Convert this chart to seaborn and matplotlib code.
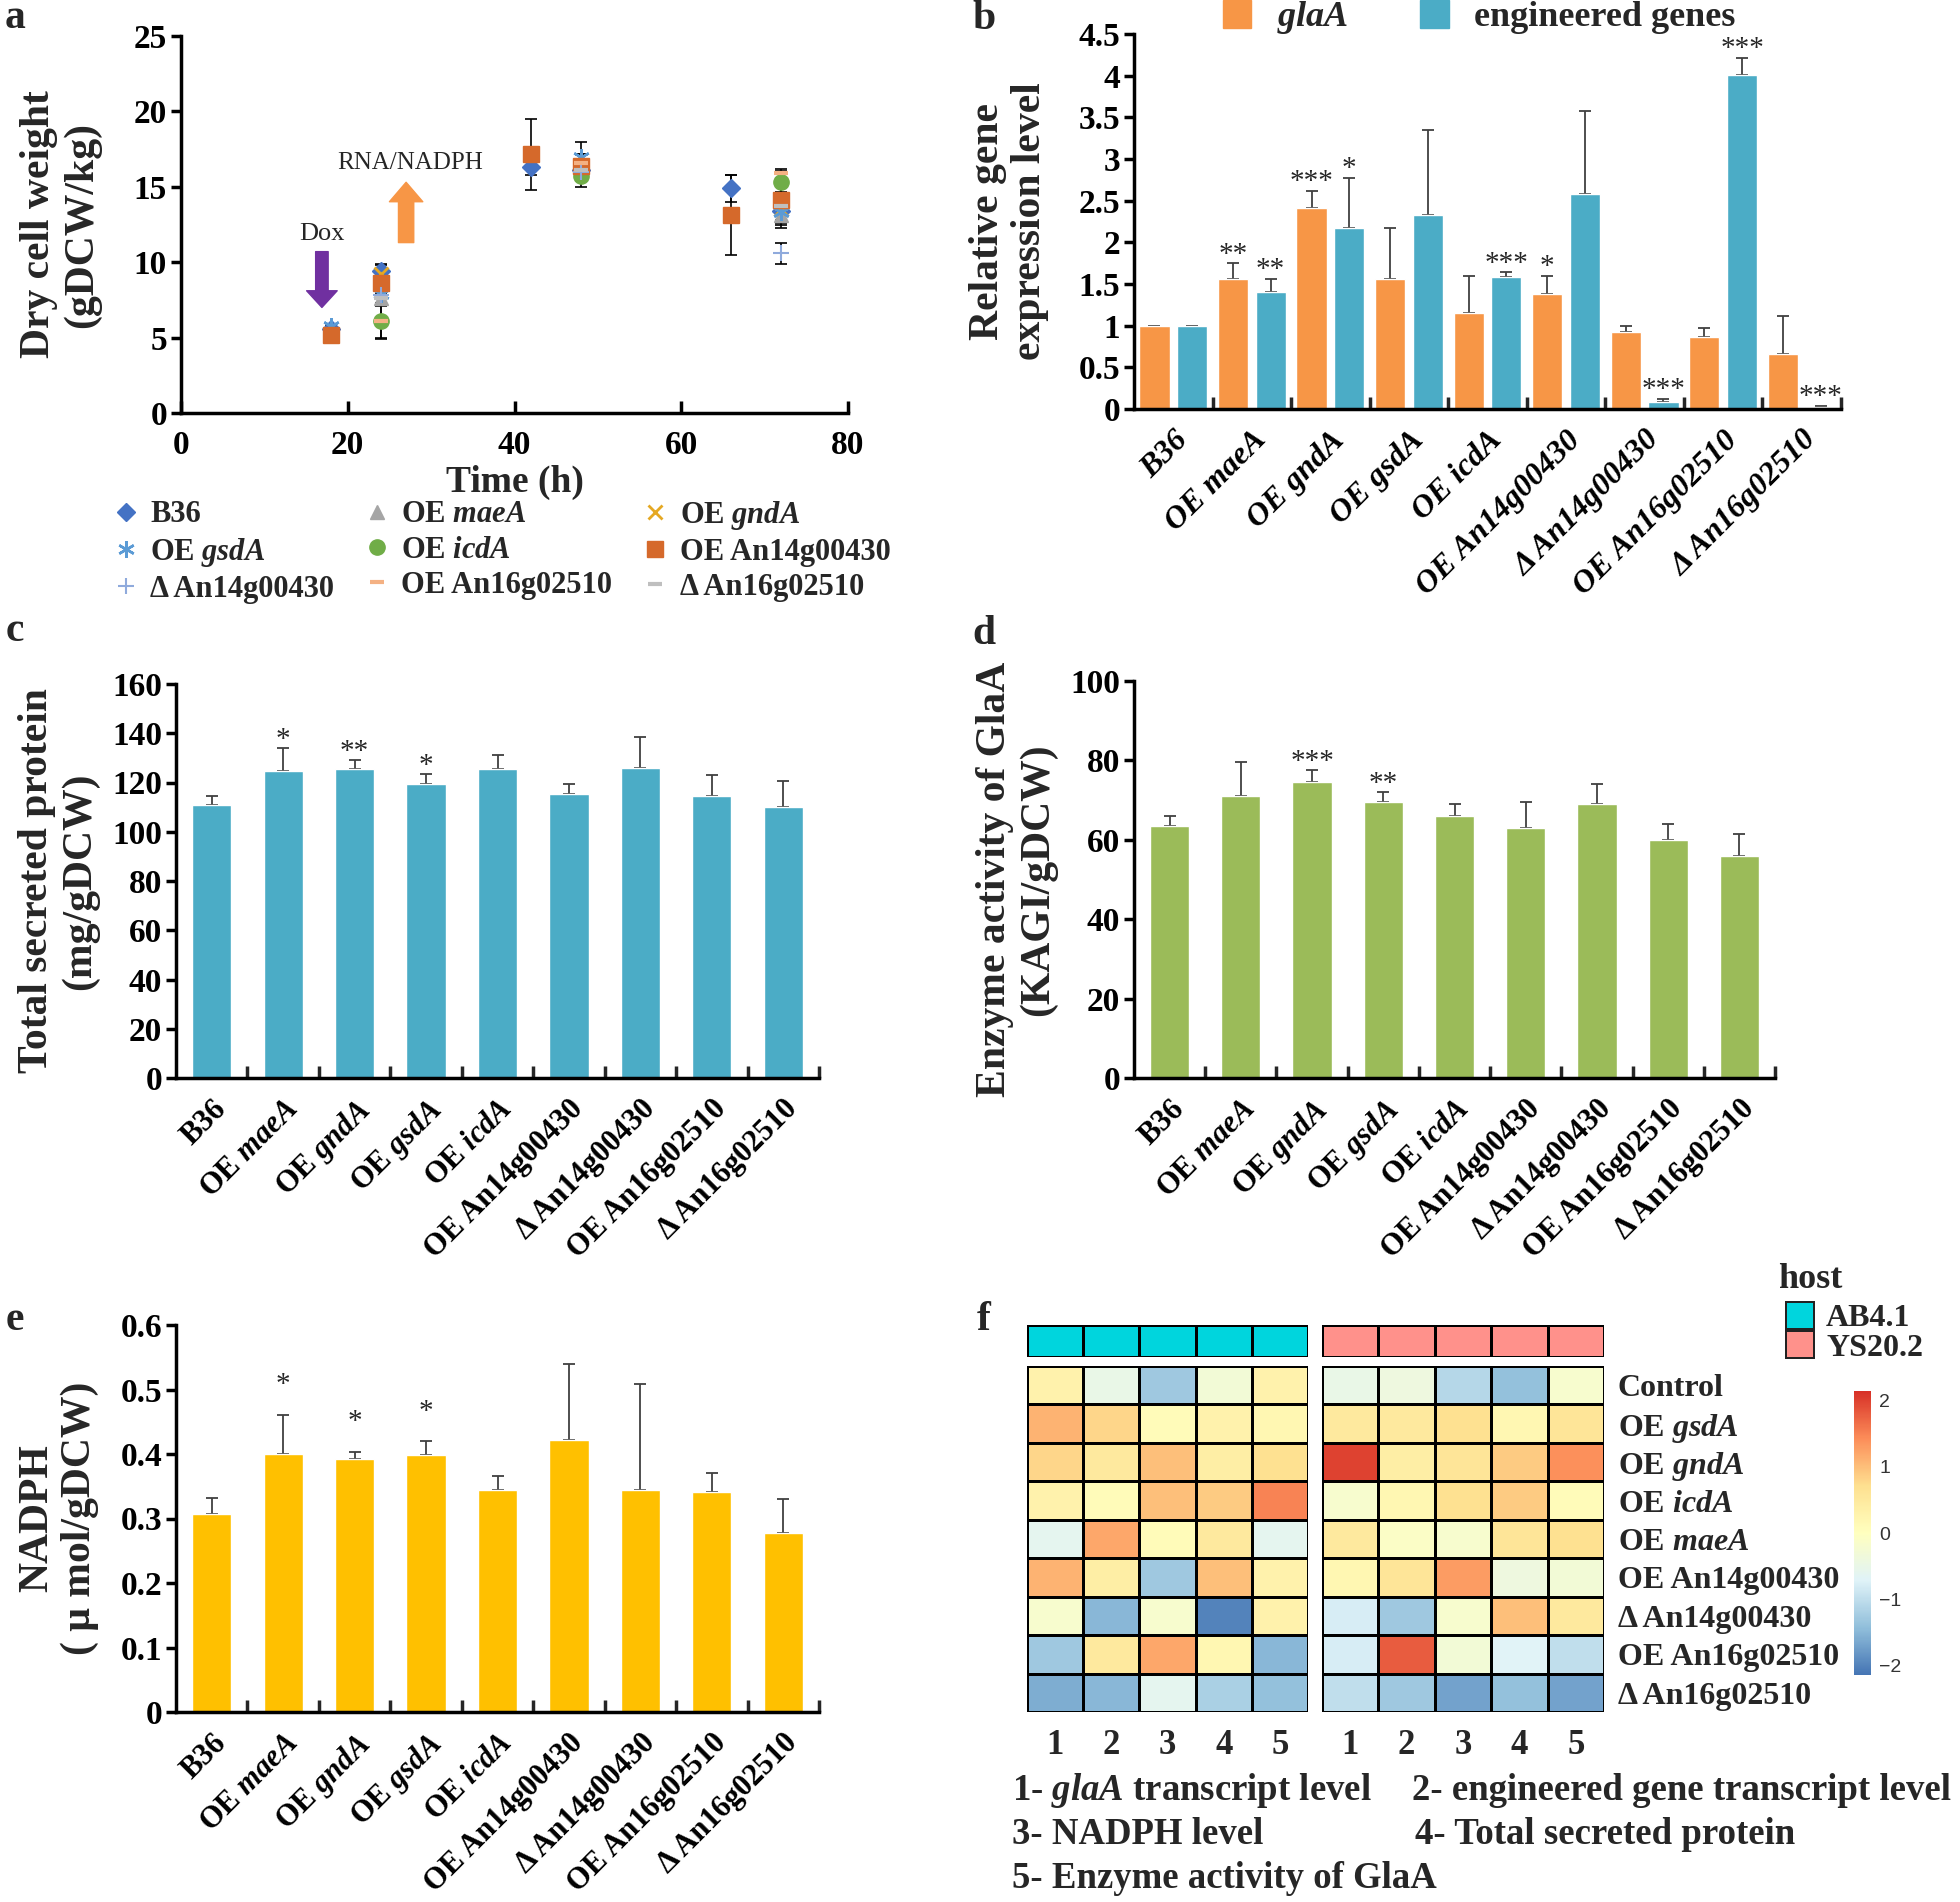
import numpy as np
import pandas as pd
import matplotlib
matplotlib.use("Agg")
import matplotlib.pyplot as plt
import seaborn as sns
from matplotlib.colors import LinearSegmentedColormap, ListedColormap
from matplotlib.patches import Patch
from matplotlib.ticker import FuncFormatter

sns.set_style("ticks")
plt.rcParams["font.family"] = ["Liberation Serif", "DejaVu Serif"]
plt.rcParams["font.weight"] = "bold"
plt.rcParams["axes.labelweight"] = "bold"
plt.rcParams["mathtext.fontset"] = "custom"
plt.rcParams["mathtext.rm"] = "Liberation Serif:bold"
plt.rcParams["mathtext.it"] = "Liberation Serif:italic:bold"
plt.rcParams["mathtext.bf"] = "Liberation Serif:bold"

nan = np.nan

# ---------------- data ----------------
strains = ["B36", "OE maeA", "OE gndA", "OE gsdA", "OE icdA",
           "OE An14g00430", "Δ An14g00430", "OE An16g02510", "Δ An16g02510"]
italic_genes = ["maeA", "gndA", "gsdA", "icdA"]

# a: dry cell weight over time
times = [18, 24, 42, 48, 66, 72]
dcw_b36 = [5.6, 9.4, 16.3, 16.1, 14.9, 13.4]
dcw_b36_err = [0.15, 0.5, 0.5, 0.6, 0.9, 0.6]
dcw_maeA = [nan, 7.6, nan, 16.0, nan, 13.1]
dcw_maeA_err = [nan, 0.5, nan, 0.5, nan, 0.8]
dcw_gndA = [nan, 9.2, nan, 16.3, nan, 13.5]
dcw_gndA_err = [nan, 0.6, nan, 0.8, nan, 0.9]
dcw_gsdA = [5.8, 7.9, nan, 17.0, nan, 13.3]
dcw_gsdA_err = [0.1, 0.6, nan, 1.0, nan, 0.8]
dcw_icdA = [nan, 6.1, nan, 15.7, nan, 15.35]
dcw_icdA_err = [nan, 1.2, nan, 0.7, nan, 0.7]
dcw_oe14 = [5.2, 8.6, 17.15, 16.4, 13.1, 14.15]
dcw_oe14_err = [0.2, 0.7, 2.35, 0.8, 2.65, 1.0]
dcw_d14 = [nan, 7.8, nan, 16.0, nan, 10.6]
dcw_d14_err = [nan, 0.5, nan, 0.6, nan, 0.7]
dcw_oe16 = [nan, 6.1, nan, 16.6, nan, 15.9]
dcw_oe16_err = [nan, 1.1, nan, 0.6, nan, 0.3]
dcw_d16 = [nan, 7.6, nan, 16.1, nan, 13.7]
dcw_d16_err = [nan, 0.4, nan, 0.5, nan, 0.6]

# b: relative expression
gla_vals = [1.0, 1.56, 2.41, 1.56, 1.15, 1.38, 0.92, 0.87, 0.66]
gla_err = [0.0, 0.19, 0.21, 0.61, 0.45, 0.22, 0.08, 0.10, 0.46]
gla_stars = ["", "**", "***", "", "", "*", "", "", ""]
eng_vals = [1.0, 1.40, 2.17, 2.33, 1.58, 2.58, 0.09, 4.01, 0.02]
eng_err = [0.0, 0.16, 0.60, 1.02, 0.06, 1.00, 0.03, 0.20, 0.02]
eng_stars = ["", "**", "*", "", "***", "", "***", "***", "***"]

# c: total secreted protein
protein_vals = [111, 124.5, 125.5, 119.5, 125.5, 115.5, 126, 114.5, 110]
protein_err = [3.5, 9.5, 3.5, 4, 5.5, 4, 12.5, 8.5, 10.5]
protein_stars = ["", "*", "**", "*", "", "", "", "", ""]

# d: GlaA enzyme activity
enzyme_vals = [63.5, 71, 74.5, 69.5, 66, 63, 69, 60, 56]
enzyme_err = [2.5, 8.5, 3, 2.5, 3, 6.5, 5, 4, 5.5]
enzyme_stars = ["", "", "***", "**", "", "", "", "", ""]

# e: NADPH
nadph_vals = [0.307, 0.400, 0.393, 0.398, 0.344, 0.422, 0.344, 0.341, 0.278]
nadph_err = [0.025, 0.061, 0.010, 0.022, 0.022, 0.117, 0.164, 0.029, 0.053]
nadph_stars = ["", "*", "*", "*", "", "", "", "", ""]

# f: heatmap (z-scores)
heat_rows = ["Control", "OE gsdA", "OE gndA", "OE icdA", "OE maeA",
             "OE An14g00430", "Δ An14g00430", "OE An16g02510", "Δ An16g02510"]
heat_cols = ["1", "2", "3", "4", "5"]
heat_ab41 = [
    [0.3, -0.5, -1.3, -0.3, 0.3],
    [1.1, 0.8, 0.1, 0.3, 0.2],
    [0.8, 0.5, 1.0, 0.4, 0.7],
    [0.3, 0.1, 1.0, 0.9, 1.5],
    [-0.6, 1.2, 0.1, 0.5, -0.6],
    [1.1, 0.4, -1.3, 1.0, 0.3],
    [-0.2, -1.5, -0.2, -2.0, 0.3],
    [-1.3, 0.5, 1.2, 0.2, -1.5],
    [-1.6, -1.5, -0.6, -1.2, -1.4],
]
heat_ys202 = [
    [-0.5, -0.4, -1.1, -1.4, -0.2],
    [0.5, 0.5, 0.7, 0.2, 0.6],
    [2.0, 0.4, 0.6, 0.9, 1.4],
    [-0.2, 0.2, 0.7, 0.9, 0.1],
    [0.5, -0.1, -0.2, 0.6, 0.7],
    [0.2, 0.6, 1.3, -0.4, -0.3],
    [-0.8, -1.3, -0.2, 1.0, 0.5],
    [-0.8, 1.8, -0.3, -0.7, -1.0],
    [-1.0, -1.3, -1.7, -1.4, -1.7],
]
hosts = ["AB4.1", "YS20.2"]
heat_notes = ["1- $\\mathit{glaA}$ transcript level", "2- engineered gene transcript level",
              "3- NADPH level", "4- Total secreted protein", "5- Enzyme activity of GlaA"]

# ---------------- helpers ----------------
W, H = 1960, 1902


def rect(l, t, r, b):
    return [l / W, 1 - b / H, (r - l) / W, (b - t) / H]


def math_label(s):
    for g in italic_genes:
        if s.endswith(g):
            return s[:-len(g)] + "$\\mathit{" + g + "}$"
    return s


def style_axes(ax):
    for s in ["top", "right"]:
        ax.spines[s].set_visible(False)
    for s in ["left", "bottom"]:
        ax.spines[s].set_linewidth(2.5)
        ax.spines[s].set_color("black")
    ax.tick_params(axis="y", direction="out", length=7, width=2.5, labelsize=24, pad=3, colors="black")
    ax.tick_params(axis="x", direction="in", length=9, width=2.5, labelsize=24, colors="black")


def bar_axes(ax, labels, ylim, step, ylabel, fmt="{:g}", italic=False, xsize=22):
    style_axes(ax)
    ax.set_ylim(*ylim)
    ax.set_yticks(np.arange(ylim[0], ylim[1] + step / 2, step))
    ax.yaxis.set_major_formatter(FuncFormatter(lambda v, p: fmt.format(round(v, 3))))
    ax.set_xlim(-0.5, 8.5)
    ax.set_xticks(range(9))
    ax.set_xticks(np.arange(0.5, 9, 1), minor=True)
    ax.tick_params(axis="x", which="major", length=0, pad=12)
    ax.tick_params(axis="x", which="minor", direction="in", length=9, width=2.5)
    ax.set_xticklabels(labels, rotation=45, ha="right", rotation_mode="anchor",
                       fontsize=xsize, fontstyle="italic" if italic else "normal")
    ax.set_xlabel("")
    ax.set_ylabel(ylabel, fontsize=30, linespacing=1.15)
    ax.yaxis.set_label_coords(-0.12, 0.5)


def add_err(ax, x, vals, errs, stars, off, color="#404040"):
    v = np.array(vals)
    e = np.array(errs)
    ax.errorbar(x, v, yerr=[np.zeros_like(e), e], fmt="none", ecolor=color,
                elinewidth=1.3, capsize=4, capthick=1.3, zorder=0.5)
    for xi, top, s in zip(x, v + e, stars):
        if s:
            ax.text(xi, top + off, s, ha="center", va="baseline", fontsize=21,
                    fontweight="normal")


fig = plt.figure(figsize=(19.6, 19.02), dpi=100)

# ---------------- panel a ----------------
ax_a = fig.add_axes(rect(181, 36, 848, 413))
series_a = [
    ("B36", dcw_b36, dcw_b36_err, dict(marker="D", ms=9, color="#4472C4")),
    ("OE $\\mathit{maeA}$", dcw_maeA, dcw_maeA_err, dict(marker="^", ms=10, color="#A5A5A5")),
    ("OE $\\mathit{gndA}$", dcw_gndA, dcw_gndA_err, dict(marker="x", ms=10, mew=2, color="#E5A823")),
    ("OE $\\mathit{gsdA}$", dcw_gsdA, dcw_gsdA_err, dict(marker=(6, 2, 0), ms=12, mew=1.8, color="#5B9BD5")),
    ("OE $\\mathit{icdA}$", dcw_icdA, dcw_icdA_err, dict(marker="o", ms=11, color="#70AD47")),
    ("OE An14g00430", dcw_oe14, dcw_oe14_err, dict(marker="s", ms=12, color="#D5692B")),
    ("Δ An14g00430", dcw_d14, dcw_d14_err, dict(marker="+", ms=12, mew=1.5, color="#8FAADC")),
    ("OE An16g02510", dcw_oe16, dcw_oe16_err, dict(marker="_", ms=10, mew=3, color="#F4B183")),
    ("Δ An16g02510", dcw_d16, dcw_d16_err, dict(marker="_", ms=10, mew=3, color="#BFBFBF")),
]
handles = []
for label, vals, errs, st in series_a:
    ax_a.errorbar(times, vals, yerr=errs, fmt="none", ecolor="black", elinewidth=1.2,
                  capsize=4, capthick=1.2, zorder=2)
    h, = ax_a.plot(times, vals, linestyle="none", zorder=3, label=label, **st)
    handles.append(h)
style_axes(ax_a)
ax_a.set_xlim(0, 80)
ax_a.set_ylim(0, 25)
ax_a.set_xticks([0, 20, 40, 60, 80])
ax_a.set_yticks([0, 5, 10, 15, 20, 25])
ax_a.tick_params(axis="x", pad=12)
ax_a.set_xlabel("Time (h)", fontsize=27, labelpad=3)
ax_a.set_ylabel("Dry cell weight\n(gDCW/kg)", fontsize=30, linespacing=1.15)
ax_a.yaxis.set_label_coords(-0.12, 0.5)

ax_a.annotate("", xy=(16.9, 7.0), xytext=(16.9, 10.7),
              arrowprops=dict(facecolor="#7030A0", edgecolor="#7030A0", width=9,
                              headwidth=22, headlength=12, shrink=0))
ax_a.text(16.9, 11.9, "Dox", ha="center", va="center", fontsize=19, fontweight="normal")
ax_a.annotate("", xy=(27.0, 15.3), xytext=(27.0, 11.3),
              arrowprops=dict(facecolor="#F79646", edgecolor="#F79646", width=11,
                              headwidth=24, headlength=14, shrink=0))
ax_a.text(27.5, 16.6, "RNA/NADPH", ha="center", va="center", fontsize=18, fontweight="normal")

order = [0, 3, 6, 1, 4, 7, 2, 5, 8]
ax_a.legend(handles=[handles[i] for i in order], ncol=3, loc="upper left",
            bbox_to_anchor=(86 / W, 1 - 471 / H), bbox_transform=fig.transFigure,
            frameon=False, fontsize=22, handletextpad=0.4, columnspacing=1.0,
            labelspacing=0.2, handlelength=0.8)

# ---------------- panel b ----------------
ax_b = fig.add_axes(rect(1134, 34, 1841, 409))
dfb = pd.DataFrame({"strain": strains * 2,
                    "gene": ["glaA"] * 9 + ["engineered genes"] * 9,
                    "value": gla_vals + eng_vals})
sns.barplot(data=dfb, x="strain", y="value", hue="gene", palette=["#F79646", "#4BACC6"],
            width=0.96, gap=0.2, errorbar=None, saturation=1, legend=False, ax=ax_b)
bar_axes(ax_b, strains, (0, 4.5), 0.5, "Relative gene\nexpression level", italic=True, xsize=23)
xs = np.arange(9)
add_err(ax_b, xs - 0.24, gla_vals, gla_err, gla_stars, 0.02)
add_err(ax_b, xs + 0.24, eng_vals, eng_err, eng_stars, 0.02)
fig.legend(handles=[Patch(color="#F79646", label="$\\mathit{glaA}$"),
                    Patch(color="#4BACC6", label="engineered genes")],
           loc="center left", bbox_to_anchor=(1190 / W, 1 - 18 / H), ncol=2, frameon=False,
           fontsize=26, handlelength=0.8, handleheight=0.8, columnspacing=2.0,
           handletextpad=0.7)

# ---------------- panel c ----------------
ax_c = fig.add_axes(rect(176, 684, 819, 1078))
sns.barplot(x=strains, y=protein_vals, color="#4BACC6", width=0.55, saturation=1,
            errorbar=None, ax=ax_c)
bar_axes(ax_c, [math_label(s) for s in strains], (0, 160), 20,
         "Total secreted protein\n(mg/gDCW)")
add_err(ax_c, xs, protein_vals, protein_err, protein_stars, 0.5)

# ---------------- panel d ----------------
ax_d = fig.add_axes(rect(1134, 681, 1775, 1078))
sns.barplot(x=strains, y=enzyme_vals, color="#9BBB59", width=0.55, saturation=1,
            errorbar=None, ax=ax_d)
bar_axes(ax_d, [math_label(s) for s in strains], (0, 100), 20,
         "Enzyme activity of GlaA\n(KAGI/gDCW)")
add_err(ax_d, xs, enzyme_vals, enzyme_err, enzyme_stars, 0.3)

# ---------------- panel e ----------------
ax_e = fig.add_axes(rect(176, 1325, 819, 1712))
sns.barplot(x=strains, y=nadph_vals, color="#FFC000", width=0.55, saturation=1,
            errorbar=None, ax=ax_e)
bar_axes(ax_e, [math_label(s) for s in strains], (0, 0.6), 0.1,
         "NADPH\n( μ mol/gDCW)")
add_err(ax_e, xs, nadph_vals, nadph_err, nadph_stars, 0.035)

# ---------------- panel f ----------------
hm_cmap = LinearSegmentedColormap.from_list(
    "pheat", ["#4575B4", "#91BFDB", "#E0F3F8", "#FFFFBF", "#FEE090", "#FC8D59", "#D73027"])
host_cmap = ListedColormap(["#00D5DD", "#FF918B"])

ax_hl = fig.add_axes(rect(1027, 1325, 1308, 1357))
ax_hr = fig.add_axes(rect(1322, 1325, 1604, 1357))
ax_fl = fig.add_axes(rect(1027, 1366, 1308, 1712))
ax_fr = fig.add_axes(rect(1322, 1366, 1604, 1712))
cax = fig.add_axes(rect(1854, 1391, 1871, 1675))
ax_leg = fig.add_axes(rect(1785, 1301, 1815, 1359))

for axh, code in [(ax_hl, 0), (ax_hr, 1)]:
    sns.heatmap(np.full((1, 5), code), ax=axh, cmap=host_cmap, vmin=0, vmax=1, cbar=False,
                linewidths=2, linecolor="black", xticklabels=False, yticklabels=False)

sns.heatmap(pd.DataFrame(heat_ab41, index=heat_rows, columns=heat_cols), ax=ax_fl,
            cmap=hm_cmap, vmin=-2.15, vmax=2.15, cbar=False, linewidths=2,
            linecolor="black", yticklabels=False)
sns.heatmap(pd.DataFrame(heat_ys202, index=heat_rows, columns=heat_cols), ax=ax_fr,
            cmap=hm_cmap, vmin=-2.15, vmax=2.15, cbar=True, cbar_ax=cax, linewidths=2,
            linecolor="black")
for axh in [ax_fl, ax_fr]:
    axh.set_xticklabels(heat_cols, rotation=0, fontsize=25)
    axh.tick_params(axis="x", length=0, pad=12)
ax_fr.yaxis.tick_right()
ax_fr.set_yticklabels([math_label(s) for s in heat_rows], rotation=0, fontsize=23)
ax_fr.tick_params(axis="y", length=0, pad=10)

cbar = ax_fr.collections[0].colorbar
cbar.set_ticks([-2, -1, 0, 1, 2])
cbar.set_ticklabels(["\u22122", "\u22121", "0", "1", "2"])
cax.tick_params(length=0, labelsize=14, pad=6)
for t in cax.get_yticklabels():
    t.set_fontfamily("Liberation Sans")
    t.set_fontweight("normal")
    t.set_color("#333333")

sns.heatmap(np.array([[0], [1]]), ax=ax_leg, cmap=host_cmap, vmin=0, vmax=1, cbar=False,
            linewidths=1.5, linecolor="#222222", xticklabels=False, yticklabels=hosts)
ax_leg.yaxis.tick_right()
ax_leg.set_yticklabels(hosts, rotation=0, fontsize=23)
ax_leg.tick_params(axis="y", length=0, pad=8)
fig.text(1810 / W, 1 - 1279 / H, "host", ha="center", va="center", fontsize=26)

fig.text(1012 / W, 1 - 1790 / H, heat_notes[0], fontsize=26.5, va="center")
fig.text(1412 / W, 1 - 1790 / H, heat_notes[1], fontsize=26.5, va="center")
fig.text(1012 / W, 1 - 1834 / H, heat_notes[2], fontsize=26.5, va="center")
fig.text(1415 / W, 1 - 1834 / H, heat_notes[3], fontsize=26.5, va="center")
fig.text(1012 / W, 1 - 1878 / H, heat_notes[4], fontsize=26.5, va="center")

# ---------------- panel letters ----------------
for letter, x, y in [("a", 15, 18), ("b", 984, 19), ("c", 15, 631),
                     ("d", 984, 634), ("e", 15, 1320), ("f", 984, 1320)]:
    fig.text(x / W, 1 - y / H, letter, fontsize=30, ha="center", va="center")

fig.savefig("out.png", dpi=100)
